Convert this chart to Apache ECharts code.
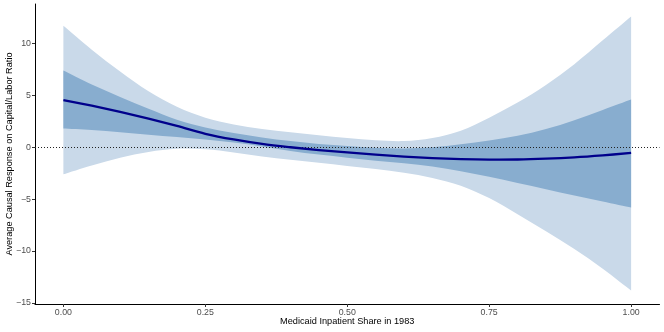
<!DOCTYPE html>
<html>
<head>
<meta charset="utf-8">
<script src="https://cdn.jsdelivr.net/npm/echarts@6/dist/echarts.min.js"></script>
<style>html,body{margin:0;padding:0;background:#fff}#c{width:664px;height:332px}</style>
</head>
<body>
<div id="c"></div>
<script>
// x positions (Medicaid inpatient share)
const xs = [0,0.05,0.1,0.15,0.2,0.25,0.3,0.35,0.4,0.45,0.5,0.55,0.6,0.65,0.7,0.75,0.8,0.85,0.9,0.95,1.0];
// fitted average causal response
const fit = [4.55,4.0,3.4,2.75,2.05,1.3,0.75,0.32,0.0,-0.27,-0.5,-0.72,-0.9,-1.04,-1.14,-1.19,-1.18,-1.1,-0.97,-0.78,-0.55];
// inner band (darker)
const innerUpper = [7.4,6.05,4.85,3.7,2.65,1.9,1.38,0.95,0.6,0.32,0.12,-0.05,-0.12,0.0,0.3,0.65,1.1,1.75,2.6,3.6,4.6];
const innerLower = [1.8,1.65,1.45,1.2,0.98,0.75,0.45,0.08,-0.35,-0.7,-1.0,-1.3,-1.55,-1.85,-2.3,-2.85,-3.45,-4.05,-4.65,-5.22,-5.8];
// outer band (lighter)
const outerUpper = [11.7,9.4,7.3,5.4,3.9,2.85,2.2,1.75,1.45,1.15,0.88,0.68,0.6,0.9,1.6,2.85,4.3,6.0,8.0,10.3,12.6];
const outerLower = [-2.6,-1.75,-1.0,-0.45,-0.15,-0.2,-0.5,-0.88,-1.2,-1.5,-1.8,-2.1,-2.45,-2.95,-3.7,-4.9,-6.45,-8.1,-9.8,-11.7,-13.8];
// tick labels
const xTicks = [0,0.25,0.5,0.75,1.0];
const yTicks = [-15,-10,-5,0,5,10];

const FONT = 'Liberation Sans, Arial, sans-serif';

// Catmull-Rom spline through pixel points -> path segments
function splineSegs(pts) {
  let d = '';
  for (let i = 0; i < pts.length - 1; i++) {
    const p0 = pts[Math.max(0, i - 1)], p1 = pts[i], p2 = pts[i + 1], p3 = pts[Math.min(pts.length - 1, i + 2)];
    const c1 = [p1[0] + (p2[0] - p0[0]) / 6, p1[1] + (p2[1] - p0[1]) / 6];
    const c2 = [p2[0] - (p3[0] - p1[0]) / 6, p2[1] - (p3[1] - p1[1]) / 6];
    d += ' C' + c1[0] + ' ' + c1[1] + ' ' + c2[0] + ' ' + c2[1] + ' ' + p2[0] + ' ' + p2[1];
  }
  return d;
}

function bandSeries(name, lo, hi, color, z) {
  const data = xs.map((x, i) => [x, lo[i], hi[i]]);
  return {
    name, type: 'custom', silent: true, z,
    encode: { x: 0, y: [1, 2] },
    data,
    renderItem: function (params, api) {
      if (params.dataIndex !== 0) return null;
      const up = data.map(r => api.coord([r[0], r[2]]));
      const dn = data.map(r => api.coord([r[0], r[1]])).reverse();
      const path = 'M' + up[0][0] + ' ' + up[0][1] + splineSegs(up) +
        ' L' + dn[0][0] + ' ' + dn[0][1] + splineSegs(dn) + ' Z';
      return { type: 'path', shape: { pathData: path }, style: { fill: color, stroke: null } };
    }
  };
}

function lineSeries(name, vals, color, width, z) {
  const data = xs.map((x, i) => [x, vals[i]]);
  return {
    name, type: 'custom', silent: true, z,
    encode: { x: 0, y: 1 },
    data,
    renderItem: function (params, api) {
      if (params.dataIndex !== 0) return null;
      const pts = data.map(r => api.coord(r));
      const path = 'M' + pts[0][0] + ' ' + pts[0][1] + splineSegs(pts);
      return { type: 'path', shape: { pathData: path },
        style: { fill: null, stroke: color, lineWidth: width, lineCap: 'butt', lineJoin: 'round' } };
    }
  };
}

const chart = echarts.init(document.getElementById('c'), null, { renderer: 'canvas' });
chart.setOption({
  animation: false,
  grid: { left: 35, right: 4.5, top: 4, bottom: 28, containLabel: false, outerBoundsMode: 'none' },
  xAxis: {
    type: 'value', min: -0.05, max: 1.05,
    name: 'Medicaid Inpatient Share in 1983', nameLocation: 'middle', nameGap: 13, nameMoveOverlap: false,
    nameTextStyle: { color: '#000', fontSize: 9.2, fontFamily: FONT },
    axisLine: { show: true, onZero: false, lineStyle: { color: '#000', width: 1 } },
    axisTick: { show: true, length: 3, lineStyle: { color: '#333' }, customValues: xTicks },
    axisLabel: { customValues: xTicks, color: '#4d4d4d', fontSize: 8.8, margin: 4, fontFamily: FONT,
      formatter: v => Number(v).toFixed(2) },
    splitLine: { show: false }
  },
  yAxis: {
    type: 'value', min: -15.1, max: 13.8,
    name: 'Average Causal Response on Capital/Labor Ratio', nameLocation: 'middle', nameGap: 21, nameMoveOverlap: false,
    nameTextStyle: { color: '#000', fontSize: 9.2, fontFamily: FONT },
    axisLine: { show: true, onZero: false, lineStyle: { color: '#000', width: 1 } },
    axisTick: { show: true, length: 3, lineStyle: { color: '#333' }, customValues: yTicks },
    axisLabel: { customValues: yTicks, color: '#4d4d4d', fontSize: 8.8, margin: 4, fontFamily: FONT,
      formatter: v => v < 0 ? '\u2212' + Math.abs(v) : String(v) },
    splitLine: { show: false }
  },
  series: [
    bandSeries('outer', outerLower, outerUpper, '#c9d9e9', 1),
    bandSeries('inner', innerLower, innerUpper, '#88adcf', 2),
    {
      name: 'zero', type: 'line', data: [], z: 3,
      markLine: { silent: true, symbol: 'none', label: { show: false }, animation: false,
        lineStyle: { color: '#222', type: [1, 2], width: 1 },
        data: [{ yAxis: 0 }] }
    },
    lineSeries('fit', fit, '#00008b', 2.3, 5)
  ]
});
</script>
</body>
</html>
